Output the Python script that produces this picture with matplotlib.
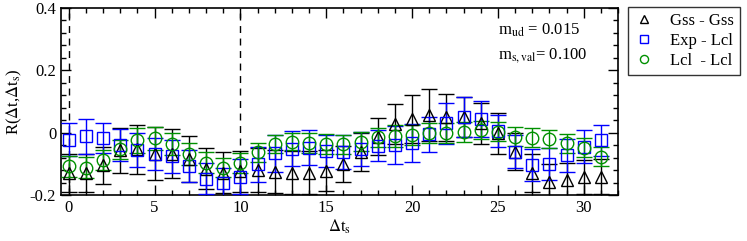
import matplotlib
matplotlib.use("Agg")
import matplotlib.pyplot as plt
from matplotlib.ticker import MultipleLocator

plt.rcParams['font.family'] = ['Liberation Serif', 'DejaVu Serif']
plt.rcParams['mathtext.fontset'] = 'stix'

## ========================================================
## 데이터
## ========================================================
dts = list(range(32))

gss = [-0.13, -0.13, -0.105, -0.056, -0.054, -0.067, -0.067, -0.085, -0.115, -0.128,
       -0.124, -0.12, -0.125, -0.128, -0.128, -0.122, -0.1, -0.062, -0.013, 0.028,
       0.043, 0.057, 0.049, 0.051, 0.03, -0.002, -0.061, -0.13, -0.157, -0.152,
       -0.143, -0.141]
gss_err = [0.06, 0.06, 0.06, 0.072, 0.079, 0.085, 0.079, 0.074, 0.067, 0.066,
           0.065, 0.07, 0.07, 0.07, 0.07, 0.066, 0.058, 0.06, 0.06, 0.064,
           0.077, 0.084, 0.075, 0.065, 0.065, 0.065, 0.06, 0.06, 0.055, 0.055,
           0.055, 0.055]

exp = [-0.022, -0.012, -0.017, -0.04, -0.056, -0.069, -0.075, -0.107, -0.148, -0.163,
       -0.141, -0.101, -0.066, -0.051, -0.048, -0.058, -0.061, -0.052, -0.042, -0.039,
       -0.033, -0.005, 0.03, 0.05, 0.044, 0.006, -0.061, -0.104, -0.101, -0.072,
       -0.045, -0.025]
exp_err = [0.054, 0.055, 0.049, 0.052, 0.054, 0.051, 0.053, 0.05, 0.05, 0.05,
           0.055, 0.056, 0.059, 0.057, 0.056, 0.051, 0.054, 0.055, 0.05, 0.06,
           0.06, 0.056, 0.065, 0.063, 0.057, 0.051, 0.053, 0.052, 0.051, 0.053,
           0.053, 0.05]

lcl = [-0.108, -0.112, -0.088, -0.054, -0.025, -0.018, -0.036, -0.069, -0.096, -0.112,
       -0.097, -0.063, -0.036, -0.029, -0.034, -0.037, -0.037, -0.029, -0.015, -0.011,
       -0.007, -0.002, -0.002, 0.003, 0.009, 0.003, -0.013, -0.016, -0.021, -0.034,
       -0.048, -0.077]
lcl_err = [0.033, 0.035, 0.032, 0.032, 0.039, 0.037, 0.036, 0.035, 0.035, 0.03,
           0.033, 0.03, 0.03, 0.027, 0.032, 0.032, 0.03, 0.03, 0.03, 0.035,
           0.032, 0.032, 0.032, 0.032, 0.03, 0.03, 0.03, 0.03, 0.029, 0.03,
           0.03, 0.03]

labels = ["Gss - Gss", "Exp - Lcl", "Lcl  - Lcl"]
colors = ["black", "#0000ff", "#009000"]
markers = ["^", "s", "o"]


fig = plt.figure(figsize=(7.47, 2.41), dpi=100)
ax = fig.add_axes([61 / 747, 1 - 195 / 241, 557 / 747, 187 / 241])

# 점선 (Δt_s = 0, 10)
for xv in [0, 10]:
    ax.axvline(xv, color="black", ls=(0, (5, 4)), lw=1, zorder=1)

handles = []
for y, e, lab, c, m in zip([gss, exp, lcl], [gss_err, exp_err, lcl_err], labels, colors, markers):
    h = ax.errorbar(dts, y, yerr=e, fmt=m, mfc="none", mec=c, ecolor=c, color=c,
                    ms=8 if m != "o" else 9, mew=1, elinewidth=1, capsize=5.5, capthick=1,
                    label=lab, zorder=3)
    handles.append(h)

ax.set_xlim(-0.45, 32)
ax.set_ylim(-0.2, 0.4)
ax.xaxis.set_major_locator(MultipleLocator(5))
ax.xaxis.set_minor_locator(MultipleLocator(1))
ax.yaxis.set_major_locator(MultipleLocator(0.2))
ax.yaxis.set_minor_locator(MultipleLocator(0.04))
ax.set_yticks([-0.2, 0, 0.2, 0.4])
ax.set_yticklabels(["-0.2", "0", "0.2", "0.4"])
ax.tick_params(which="both", direction="in", top=True, right=True, labelsize=12)
ax.tick_params(which="major", length=7, width=1)
ax.tick_params(which="minor", length=3.5, width=1)
for s in ax.spines.values():
    s.set_linewidth(1.2)

ax.set_xlabel(r"$\Delta$t$_\mathrm{s}$", fontsize=12, labelpad=1)
ax.set_ylabel(r"R($\Delta$t,$\Delta$t$_\mathrm{s}$)", fontsize=12, labelpad=4)

ax.text(0.785, 0.86, r"m$_\mathrm{ud}$ = 0.015", transform=ax.transAxes, fontsize=12)
ax.text(0.785, 0.73, r"m$_\mathrm{s,val}$= 0.100", transform=ax.transAxes, fontsize=12)

leg = fig.legend(handles=[h[0] for h in handles], labels=labels,
                 loc="upper left", bbox_to_anchor=(628 / 747, 1 - 7 / 241),
                 frameon=True, fancybox=False, edgecolor="black", fontsize=12,
                 markerscale=0.65, handlelength=1.2, handletextpad=1.0,
                 borderpad=0.35, labelspacing=0.25, borderaxespad=0)
leg.get_frame().set_linewidth(1)

fig.savefig("out.png", dpi=100)
